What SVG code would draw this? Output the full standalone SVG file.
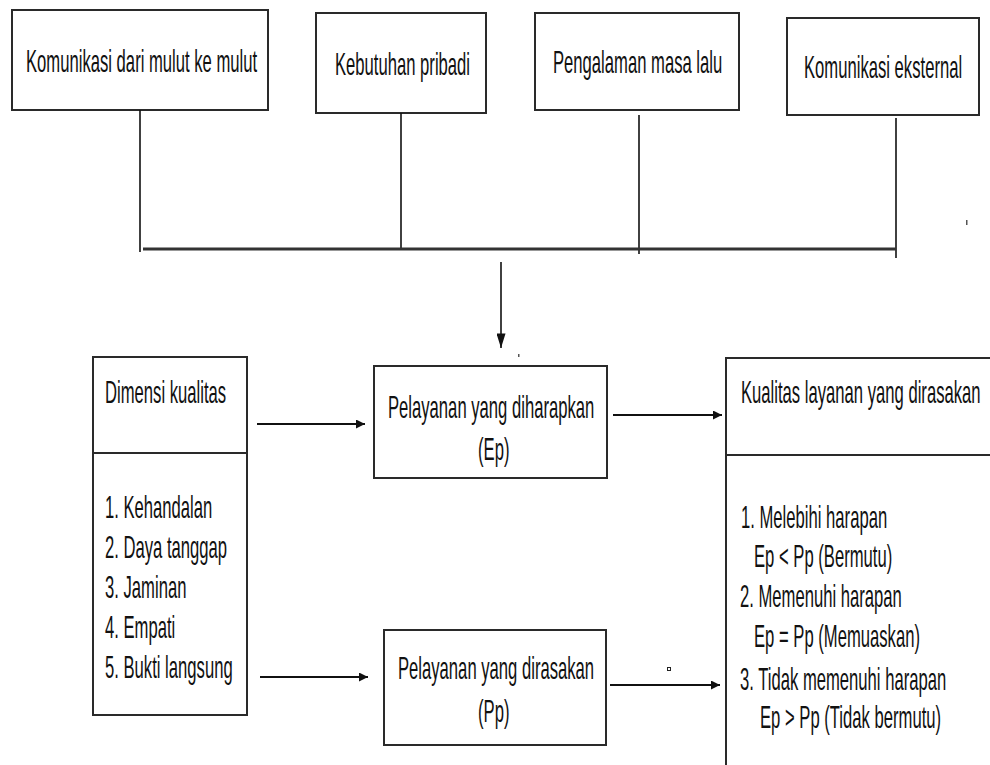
<svg xmlns="http://www.w3.org/2000/svg" width="990" height="765" viewBox="0 0 990 765">
<style>
.box{fill:#fff;stroke:#2a2a2a;stroke-width:2}
.t{font-family:"Liberation Sans",Arial,sans-serif;font-size:32px;fill:#111}
.c{stroke:#111;stroke-width:1.6;fill:none}
.bus{stroke:#333;stroke-width:3;fill:none}
.a{stroke:#111;stroke-width:2;fill:none;marker-end:url(#ah)}
</style>
<defs>
<marker id="ah" viewBox="0 0 10 10" refX="10" refY="5" markerWidth="10" markerHeight="9" markerUnits="userSpaceOnUse" orient="auto">
<path d="M0,0 L10,5 L0,10 z" fill="#111"/>
</marker>
<marker id="ahd" viewBox="0 0 16 10" refX="16" refY="5" markerWidth="16" markerHeight="9" markerUnits="userSpaceOnUse" orient="auto">
<path d="M0,0 L16,5 L0,10 z" fill="#111"/>
</marker>
</defs>
<rect width="990" height="765" fill="#fff"/>
<g id="komunikasi-mulut">
<rect class="box" x="12" y="10" width="256" height="100"/>
<text class="t" transform="translate(26 72) scale(0.52 1)">Komunikasi dari mulut ke mulut</text>
</g>
<g id="kebutuhan-pribadi">
<rect class="box" x="316" y="13" width="170" height="100"/>
<text class="t" transform="translate(335 75) scale(0.52 1)">Kebutuhan pribadi</text>
</g>
<g id="pengalaman">
<rect class="box" x="535" y="13" width="204" height="97"/>
<text class="t" transform="translate(553 73) scale(0.52 1)">Pengalaman masa lalu</text>
</g>
<g id="komunikasi-eksternal">
<rect class="box" x="787" y="18" width="192" height="97"/>
<text class="t" transform="translate(804 78) scale(0.52 1)">Komunikasi eksternal</text>
</g>
<g id="dimensi-kualitas">
<rect class="box" x="93" y="357" width="154" height="358"/>
<line x1="93" y1="453" x2="247" y2="453" stroke="#2a2a2a" stroke-width="2"/>
<text class="t" transform="translate(105 403) scale(0.52 1)">Dimensi kualitas</text>
<text class="t" transform="translate(105 518) scale(0.52 1)">1. Kehandalan</text>
<text class="t" transform="translate(105 558) scale(0.52 1)">2. Daya tanggap</text>
<text class="t" transform="translate(105 598) scale(0.52 1)">3. Jaminan</text>
<text class="t" transform="translate(105 638) scale(0.52 1)">4. Empati</text>
<text class="t" transform="translate(105 678) scale(0.52 1)">5. Bukti langsung</text>
</g>
<g id="pelayanan-diharapkan">
<rect class="box" x="374" y="366" width="233" height="112"/>
<text class="t" transform="translate(388 418) scale(0.52 1)">Pelayanan yang diharapkan</text>
<text class="t" transform="translate(478 460) scale(0.52 1)">(Ep)</text>
</g>
<g id="pelayanan-dirasakan">
<rect class="box" x="384" y="630" width="222" height="115"/>
<text class="t" transform="translate(398 679) scale(0.52 1)">Pelayanan yang dirasakan</text>
<text class="t" transform="translate(478 722) scale(0.52 1)">(Pp)</text>
</g>
<g id="kualitas-layanan">
<rect class="box" x="726" y="358" width="300" height="450"/>
<line x1="726" y1="455" x2="990" y2="455" stroke="#2a2a2a" stroke-width="2"/>
<text class="t" transform="translate(741 403) scale(0.52 1)">Kualitas layanan yang dirasakan</text>
<text class="t" transform="translate(741 528) scale(0.52 1)">1. Melebihi harapan</text>
<text class="t" transform="translate(754 567) scale(0.52 1)">Ep &lt; Pp (Bermutu)</text>
<text class="t" transform="translate(740 607) scale(0.52 1)">2. Memenuhi harapan</text>
<text class="t" transform="translate(754 647) scale(0.52 1)">Ep = Pp (Memuaskan)</text>
<text class="t" transform="translate(740 690) scale(0.52 1)">3. Tidak memenuhi harapan</text>
<text class="t" transform="translate(760 728) scale(0.52 1)">Ep &gt; Pp (Tidak bermutu)</text>
</g>
<g id="connectors">
<line class="c" x1="140" y1="110" x2="140" y2="252"/>
<line class="c" x1="401" y1="113" x2="401" y2="249"/>
<line class="c" x1="639" y1="115" x2="639" y2="254"/>
<line class="c" x1="896" y1="118" x2="896" y2="258"/>
<line class="bus" x1="143" y1="249" x2="896" y2="249"/>
<line x1="501" y1="262" x2="501" y2="348" stroke="#111" stroke-width="1.6" marker-end="url(#ahd)"/>
<line class="a" x1="257" y1="424" x2="365" y2="424"/>
<line class="a" x1="260" y1="677" x2="368" y2="677"/>
<line class="a" x1="613" y1="415" x2="722" y2="415"/>
<line class="a" x1="610" y1="685" x2="720" y2="685"/>
</g>
<rect x="518" y="354" width="1.5" height="3" fill="#555"/>
<rect x="966" y="220" width="1.5" height="5" fill="#555"/>
<rect x="667.5" y="667.5" width="3" height="3" fill="none" stroke="#222" stroke-width="1"/>
</svg>
